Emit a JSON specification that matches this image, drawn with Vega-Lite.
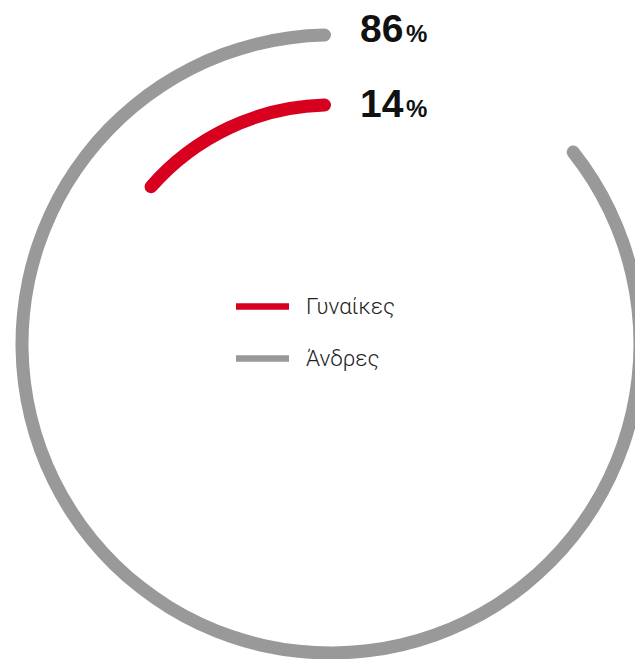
{
  "$schema": "https://vega.github.io/schema/vega-lite/v6.json",
  "width": 608,
  "height": 630,
  "autosize": {"type": "none"},
  "padding": {"left": 27, "top": 29, "right": 0, "bottom": 0},
  "background": "white",
  "config": {"view": {"stroke": null}},
  "data": {
    "values": [
      {"group": "Γυναίκες", "value": 14},
      {"group": "Άνδρες", "value": 86}
    ]
  },
  "layer": [
    {
      "mark": {"type": "arc", "cornerRadius": 6.5, "radius2Offset": -13},
      "encoding": {
        "theta": {"field": "value", "type": "quantitative", "stack": null, "scale": {"domain": [0, 100], "range": [6.283185307179586, 0]}},
        "theta2": {"datum": 0},
        "radius": {"field": "group", "type": "nominal", "scale": {"type": "point", "domain": ["Γυναίκες", "Άνδρες"], "range": [245.5, 315.5], "padding": 0}},
        "radius2": {"field": "group"},
        "color": {
          "field": "group",
          "type": "nominal",
          "scale": {"domain": ["Γυναίκες", "Άνδρες"], "range": ["#d7001e", "#999999"]},
          "legend": {
            "orient": "none",
            "legendX": 209,
            "legendY": 251,
            "title": null,
            "padding": 0,
            "symbolType": "M-1,-0.125H1V0.125H-1Z",
            "symbolSize": 2809,
            "symbolStrokeWidth": 0,
            "symbolOpacity": 1,
            "labelFont": "Roboto",
            "labelFontWeight": 300,
            "labelFontSize": 22.5,
            "labelColor": "#222222",
            "labelOffset": 17,
            "rowPadding": 14
          }
        }
      }
    },
    {
      "mark": {"type": "text", "font": "Liberation Sans", "fontWeight": "bold", "fontSize": 39, "align": "left", "baseline": "alphabetic", "dx": 29, "color": "#111111"},
      "encoding": {
        "theta": {"datum": 0, "type": "quantitative"},
        "radius": {"field": "group", "type": "nominal", "scale": {"type": "point", "domain": ["Γυναίκες", "Άνδρες"], "range": [227, 302], "padding": 0}},
        "text": {"field": "value", "type": "quantitative", "format": "d"}
      }
    },
    {
      "mark": {"type": "text", "font": "Liberation Sans", "fontWeight": "bold", "fontSize": 24, "align": "left", "baseline": "alphabetic", "dx": 75, "color": "#111111"},
      "encoding": {
        "theta": {"datum": 0, "type": "quantitative"},
        "radius": {"field": "group", "type": "nominal", "scale": {"type": "point", "domain": ["Γυναίκες", "Άνδρες"], "range": [227, 302], "padding": 0}},
        "text": {"value": "%"}
      }
    }
  ],
  "resolve": {"scale": {"radius": "independent"}}
}
